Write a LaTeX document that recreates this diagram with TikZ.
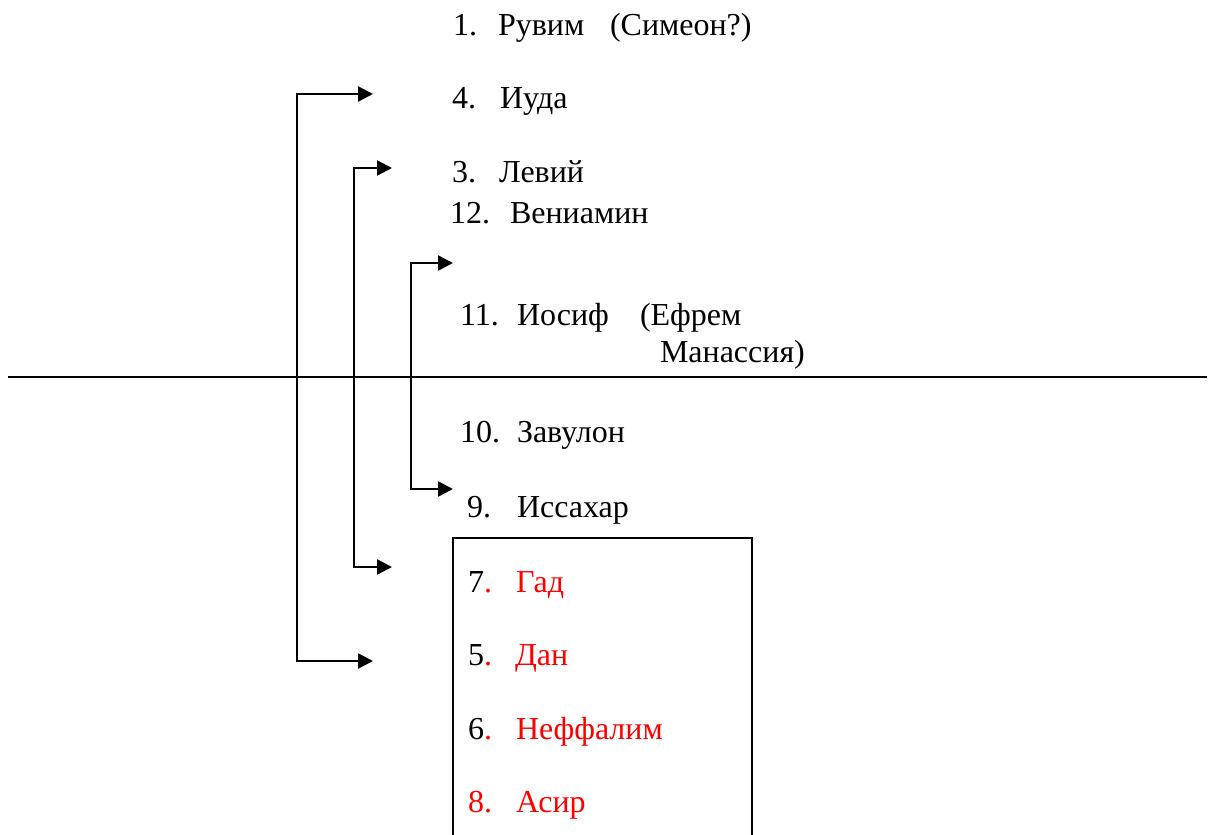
\documentclass[tikz,border=0pt]{standalone}
\usepackage{fontspec}
\setmainfont{Liberation Serif}
\newfontfamily\tribefont{Liberation Serif}
\usetikzlibrary{arrows.meta}
\definecolor{tribered}{RGB}{255,0,0}
\tikzset{
  lbl/.style={anchor=base west, inner sep=0pt, outer sep=0pt,
    font=\tribefont\fontsize{32}{38}\selectfont},
  redlbl/.style={lbl, text=tribered},
  link/.style={line width=2.4pt, line join=miter,
    -{Triangle[length=15pt,width=15pt]}},
  rule/.style={line width=2.2pt},
  frame/.style={line width=2.2pt}
}
\begin{document}
\begin{tikzpicture}[x=1pt,y=-1pt]
\useasboundingbox (0,0) rectangle (1210,835);

% upper group
\node[lbl] (n1) at (453,35) {1.};
\node[lbl] (t1) at (498,35) {Рувим};
\node[lbl] (t1b) at (610,35) {(Симеон?)};

\node[lbl] (n4) at (452,108) {4.};
\node[lbl] (t4) at (500,108) {Иуда};

\node[lbl] (n3) at (452,182) {3.};
\node[lbl] (t3) at (499,182) {Левий};
\node[lbl] (n12) at (450,223) {12.};
\node[lbl] (t12) at (510,223) {Вениамин};

\node[lbl] (n11) at (460,325) {11.};
\node[lbl] (t11) at (517,325) {Иосиф};
\node[lbl] (t11b) at (640,325) {(Ефрем};
\node[lbl] (t11c) at (660,362) {Манассия)};

% dividing line
\coordinate (ruleL) at (8,377);
\coordinate (ruleR) at (1207,377);
\draw[rule] (ruleL) -- (ruleR);

% lower group
\node[lbl] (n10) at (460,442) {10.};
\node[lbl] (t10) at (517,442) {Завулон};

\node[lbl] (n9) at (467,517) {9.};
\node[lbl] (t9) at (517,517) {Иссахар};

% framed group
\coordinate (boxBL) at (453,836);
\coordinate (boxTL) at (453,538);
\coordinate (boxTR) at (752,538);
\coordinate (boxBR) at (752,836);
\draw[frame] (boxBL) -- (boxTL) -- (boxTR) -- (boxBR);

\node[lbl] (n7) at (468,592) {7\textcolor{tribered}{.}};
\node[redlbl] (t7) at (516,592) {Гад};
\node[lbl] (n5) at (468,665) {5\textcolor{tribered}{.}};
\node[redlbl] (t5) at (515,665) {Дан};
\node[lbl] (n6) at (468,739) {6\textcolor{tribered}{.}};
\node[redlbl] (t6) at (516,739) {Неффалим};
\node[redlbl] (n8) at (468,812) {8.};
\node[redlbl] (t8) at (516,812) {Асир};

% exchange brackets
\coordinate (aTop) at (297,94);
\coordinate (aTopTip) at (373,94);
\coordinate (aBot) at (297,661);
\coordinate (aBotTip) at (373,661);
\draw[link] (aBot) -- (aTop) -- (aTopTip);
\draw[link] (aTop) -- (aBot) -- (aBotTip);

\coordinate (bTop) at (354,168);
\coordinate (bTopTip) at (392,168);
\coordinate (bBot) at (354,567);
\coordinate (bBotTip) at (392,567);
\draw[link] (bBot) -- (bTop) -- (bTopTip);
\draw[link] (bTop) -- (bBot) -- (bBotTip);

\coordinate (cTop) at (411,263);
\coordinate (cTopTip) at (453,263);
\coordinate (cBot) at (411,489);
\coordinate (cBotTip) at (453,489);
\draw[link] (cBot) -- (cTop) -- (cTopTip);
\draw[link] (cTop) -- (cBot) -- (cBotTip);
\end{tikzpicture}
\end{document}
